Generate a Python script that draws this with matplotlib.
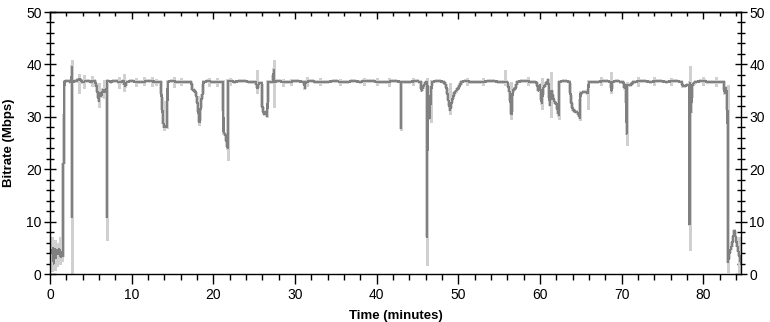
import matplotlib
matplotlib.use("Agg")
import matplotlib.pyplot as plt
from matplotlib.ticker import MultipleLocator

# ── data ─────────────────────────────────────────────────────────────────────
# main bitrate trace: time in minutes, bitrate in Mbps
time_min = [
    0.0, 0.2, 0.35, 0.45, 0.55, 0.7, 0.85, 1.0, 1.15, 1.3, 1.45, 1.6,
    1.62, 1.75, 1.77, 2.2, 2.6, 2.7, 2.7, 2.72, 3.2, 3.6, 4.0, 4.5,
    5.0, 5.5, 5.7, 6.0, 6.1, 6.3, 6.5, 6.7, 6.95, 7.0, 7.0, 7.5,
    8.0, 8.5, 9.0, 9.2, 9.4, 10.0, 11.0, 12.0, 13.0, 13.55, 13.7, 13.85,
    14.0, 14.2, 14.35, 14.4, 15.0, 16.0, 17.0, 17.3, 17.4, 17.8, 18.0, 18.2,
    18.3, 18.5, 18.7, 18.8, 19.5, 20.0, 21.0, 21.2, 21.25, 21.5, 21.75, 21.8,
    22.5, 23.5, 24.5, 25.2, 25.4, 25.6, 25.9, 26.0, 26.2, 26.4, 26.6, 26.7,
    27.3, 27.4, 27.45, 28.0, 29.0, 30.0, 31.1, 31.2, 31.3, 32.0, 33.0, 34.0,
    35.0, 36.0, 37.0, 38.0, 39.0, 40.0, 41.0, 42.0, 43.0, 43.0, 43.02, 44.0,
    45.0, 45.4, 45.5, 45.7, 46.0, 46.2, 46.2, 46.22, 46.4, 46.5, 46.6, 46.75,
    47.5, 48.2, 48.5, 48.8, 49.0, 49.2, 49.5, 50.0, 50.4, 51.0, 52.0, 53.0,
    54.0, 55.0, 55.8, 56.0, 56.3, 56.5, 56.65, 57.0, 57.2, 58.0, 59.0, 59.6,
    59.8, 60.0, 60.2, 60.4, 60.8, 61.0, 61.2, 61.4, 61.7, 62.0, 62.3, 62.35,
    63.0, 63.6, 63.8, 64.0, 64.3, 64.6, 64.9, 64.95, 65.5, 65.9, 65.95, 67.0,
    68.0, 68.7, 68.75, 68.8, 69.5, 70.2, 70.35, 70.55, 70.6, 70.6, 71.0, 71.5,
    72.5, 73.5, 74.5, 75.5, 76.5, 77.3, 77.5, 77.9, 78.3, 78.3, 78.32, 78.5,
    78.6, 79.0, 80.0, 81.0, 82.0, 82.5, 82.6, 82.8, 82.95, 83.0, 83.2, 83.5,
    83.8, 84.0, 84.3, 84.6,
]
bitrate = [
    4.5, 4.0, 5.0, 2.0, 4.8, 3.0, 4.5, 3.8, 4.8, 3.2, 4.2, 3.5,
    21.0, 21.5, 36.7, 36.9, 36.6, 39.6, 10.9, 36.7, 36.8, 37.2, 36.6, 36.9,
    36.7, 36.8, 35.8, 33.0, 34.5, 34.0, 35.2, 34.8, 35.5, 10.9, 36.8, 36.7,
    36.9, 36.6, 36.8, 35.8, 36.7, 36.8, 36.6, 36.8, 36.7, 36.7, 33.0, 29.0,
    28.0, 28.3, 28.0, 36.7, 36.8, 36.6, 36.7, 36.6, 35.3, 34.8, 33.5, 30.5,
    29.0, 33.0, 34.5, 36.7, 36.8, 36.6, 36.7, 36.7, 27.0, 26.5, 24.0, 36.9,
    36.7, 36.8, 36.7, 36.7, 35.5, 36.5, 36.5, 32.0, 30.5, 31.0, 30.2, 36.7,
    36.7, 39.0, 36.7, 36.8, 36.6, 36.8, 36.7, 35.5, 36.7, 36.8, 36.6, 36.7,
    36.8, 36.6, 36.8, 36.7, 36.9, 36.7, 36.6, 36.8, 36.7, 27.8, 36.7, 36.7,
    36.8, 36.6, 35.0, 35.8, 36.5, 36.7, 7.1, 36.0, 33.0, 29.8, 33.0, 36.7,
    36.8, 36.7, 36.0, 33.0, 31.3, 33.0, 34.5, 35.5, 36.7, 36.8, 36.6, 36.7,
    36.8, 36.7, 36.7, 36.6, 34.5, 30.5, 35.0, 35.5, 36.7, 36.8, 36.7, 36.5,
    35.0, 36.0, 32.6, 35.5, 36.5, 37.0, 32.3, 35.0, 33.0, 32.5, 30.3, 36.7,
    36.8, 36.7, 33.0, 31.5, 31.0, 30.8, 29.8, 34.5, 34.8, 34.5, 36.7, 36.7,
    36.8, 36.7, 35.0, 36.7, 36.8, 36.6, 35.5, 36.0, 26.8, 36.0, 36.0, 36.7,
    36.8, 36.7, 36.8, 36.7, 36.8, 36.7, 35.8, 36.0, 36.0, 9.5, 36.5, 31.0,
    36.0, 36.7, 36.8, 36.6, 36.7, 36.7, 34.5, 35.5, 31.0, 2.3, 4.1, 5.5,
    8.3, 6.5, 4.3, 2.0,
]

# light-grey peak excursions: time, low, high (Mbps)
spike_t = [
    0.3, 0.6, 0.9, 1.2, 1.5, 2.7, 3.5, 4.2, 5.2, 6.0, 6.6, 7.0,
    8.5, 9.1, 10.5, 11.5, 12.5, 13.0, 14.0, 15.2, 16.0, 18.3, 19.5, 20.5,
    21.0, 21.75, 22.0, 25.3, 26.6, 27.4, 28.5, 29.5, 31.5, 33.0, 35.5, 38.5,
    40.0, 41.5, 43.0, 44.5, 46.2, 46.6, 49.0, 51.0, 53.0, 55.7, 56.5, 58.5,
    60.2, 61.3, 62.3, 64.9, 65.9, 67.5, 68.7, 70.6, 72.0, 74.0, 76.0, 78.3,
    80.0, 81.5, 83.0, 84.4,
]
spike_lo = [
    0.5, 0.8, 1.5, 2.0, 2.5, 0.0, 34.5, 35.5, 35.8, 31.8, 33.5, 6.5,
    35.5, 35.0, 35.8, 36.0, 35.9, 36.0, 27.5, 35.6, 36.0, 28.5, 35.8, 35.8,
    32.5, 21.8, 36.0, 34.5, 30.0, 31.9, 35.8, 36.0, 35.8, 36.0, 36.0, 36.0,
    36.0, 35.9, 27.5, 36.0, 1.7, 29.0, 30.5, 36.0, 36.0, 36.0, 29.5, 36.0,
    31.5, 30.0, 29.5, 29.3, 31.5, 36.0, 34.5, 24.6, 35.8, 36.0, 36.0, 4.6,
    36.0, 35.9, 0.4, 0.3,
]
spike_hi = [
    7.0, 6.5, 6.0, 7.0, 6.0, 40.8, 38.2, 38.0, 37.8, 36.5, 37.0, 36.7,
    37.6, 38.2, 37.5, 37.6, 37.6, 37.3, 33.0, 37.6, 37.5, 34.0, 37.5, 37.4,
    37.0, 36.7, 37.5, 38.9, 36.0, 40.8, 37.3, 37.3, 37.6, 37.4, 37.3, 37.5,
    37.4, 37.4, 36.7, 37.4, 37.5, 36.7, 36.5, 37.5, 37.4, 39.0, 36.7, 37.6,
    37.5, 38.5, 36.7, 35.0, 36.7, 37.6, 38.5, 36.7, 37.6, 37.6, 37.4, 39.6,
    37.6, 37.6, 36.0, 7.0,
]

DARK = "#808080"
LIGHT = "#d0d0d0"

# ── plot ─────────────────────────────────────────────────────────────────────
fig = plt.figure(figsize=(7.7, 3.22), dpi=100)
ax = fig.add_axes([50 / 770, 1 - 274 / 322, 691 / 770, 262 / 322])

# light halo + peak excursions, then the main trace on top
ax.plot(time_min, bitrate, color=LIGHT, lw=2.0, antialiased=False)
ax.vlines(spike_t, spike_lo, spike_hi, color=LIGHT, lw=0.8, antialiased=False)
ax.plot(time_min, bitrate, color=DARK, lw=0.8, antialiased=False)

ax.set_xlim(0, 84.6)
ax.set_ylim(0, 50)
ax.xaxis.set_major_locator(MultipleLocator(10))
ax.xaxis.set_minor_locator(MultipleLocator(2))
ax.yaxis.set_major_locator(MultipleLocator(10))
ax.yaxis.set_minor_locator(MultipleLocator(2))

for sp in ax.spines.values():
    sp.set_linewidth(1.0)
    sp.set_color("black")

font = "Liberation Sans"
ax.tick_params(axis="x", which="major", direction="out", length=7, width=1,
               labelsize=10, pad=3)
ax.tick_params(axis="x", which="minor", direction="out", length=4, width=1)
ax.tick_params(axis="y", which="major", direction="inout", length=8, width=1,
               left=True, right=True, labelleft=True, labelright=True,
               labelsize=10, pad=2)
ax.tick_params(axis="y", which="minor", direction="inout", length=6, width=1,
               left=True, right=True)
for lbl in ax.get_xticklabels() + ax.get_yticklabels():
    lbl.set_family(font)

top = ax.secondary_xaxis("top")
top.xaxis.set_major_locator(MultipleLocator(10))
top.xaxis.set_minor_locator(MultipleLocator(2))
top.tick_params(which="major", direction="in", length=5, width=1, labeltop=False)
top.tick_params(which="minor", direction="in", length=3, width=1)
top.spines["top"].set_linewidth(1.0)

ax.set_xlabel("Time (minutes)", fontsize=9.5, fontweight="bold", family=font,
              labelpad=6)
ax.set_ylabel("Bitrate (Mbps)", fontsize=9.5, fontweight="bold", family=font,
              labelpad=8)

fig.savefig("out.png", dpi=100)
